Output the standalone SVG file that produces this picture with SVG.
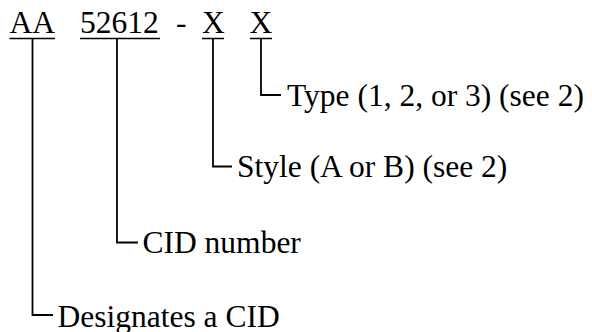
<svg xmlns="http://www.w3.org/2000/svg" width="592" height="332" viewBox="0 0 592 332">
  <style>
    .ul { stroke: #000; stroke-width: 1.5; }
    .conn { fill: none; stroke: #000; stroke-width: 1.8; }
  </style>
  <rect width="592" height="332" fill="#fff"/>
  <g font-family="Liberation Serif, 'Times New Roman', serif" font-size="31.5" fill="#000">
  <g id="code">
    <text x="9.5" y="33">AA</text>
    <text x="80" y="33">52612</text>
    <text x="176" y="33">-</text>
    <text x="202" y="33">X</text>
    <text x="249.5" y="33">X</text>
    <line class="ul" x1="9.5" y1="38.5" x2="55" y2="38.5"/>
    <line class="ul" x1="80" y1="38.5" x2="160" y2="38.5"/>
    <line class="ul" x1="202" y1="38.5" x2="224" y2="38.5"/>
    <line class="ul" x1="250" y1="38.5" x2="272" y2="38.5"/>
  </g>
  <g id="type">
    <text x="287" y="105.5">Type (1, 2, or 3) (see 2)</text>
  </g>
  <g id="style">
    <text x="237" y="177">Style (A or B) (see 2)</text>
  </g>
  <g id="cid-number">
    <text x="142.5" y="253">CID number</text>
  </g>
  <g id="designates">
    <text x="57.5" y="326.5">Designates a CID</text>
  </g>
  </g>
  <g id="connectors">
    <path class="conn" d="M261 39 V95 H281"/>
    <path class="conn" d="M213 39 V166.5 H232"/>
    <path class="conn" d="M117 39 V242.5 H138"/>
    <path class="conn" d="M32.5 39 V315 H53"/>
  </g>
</svg>
